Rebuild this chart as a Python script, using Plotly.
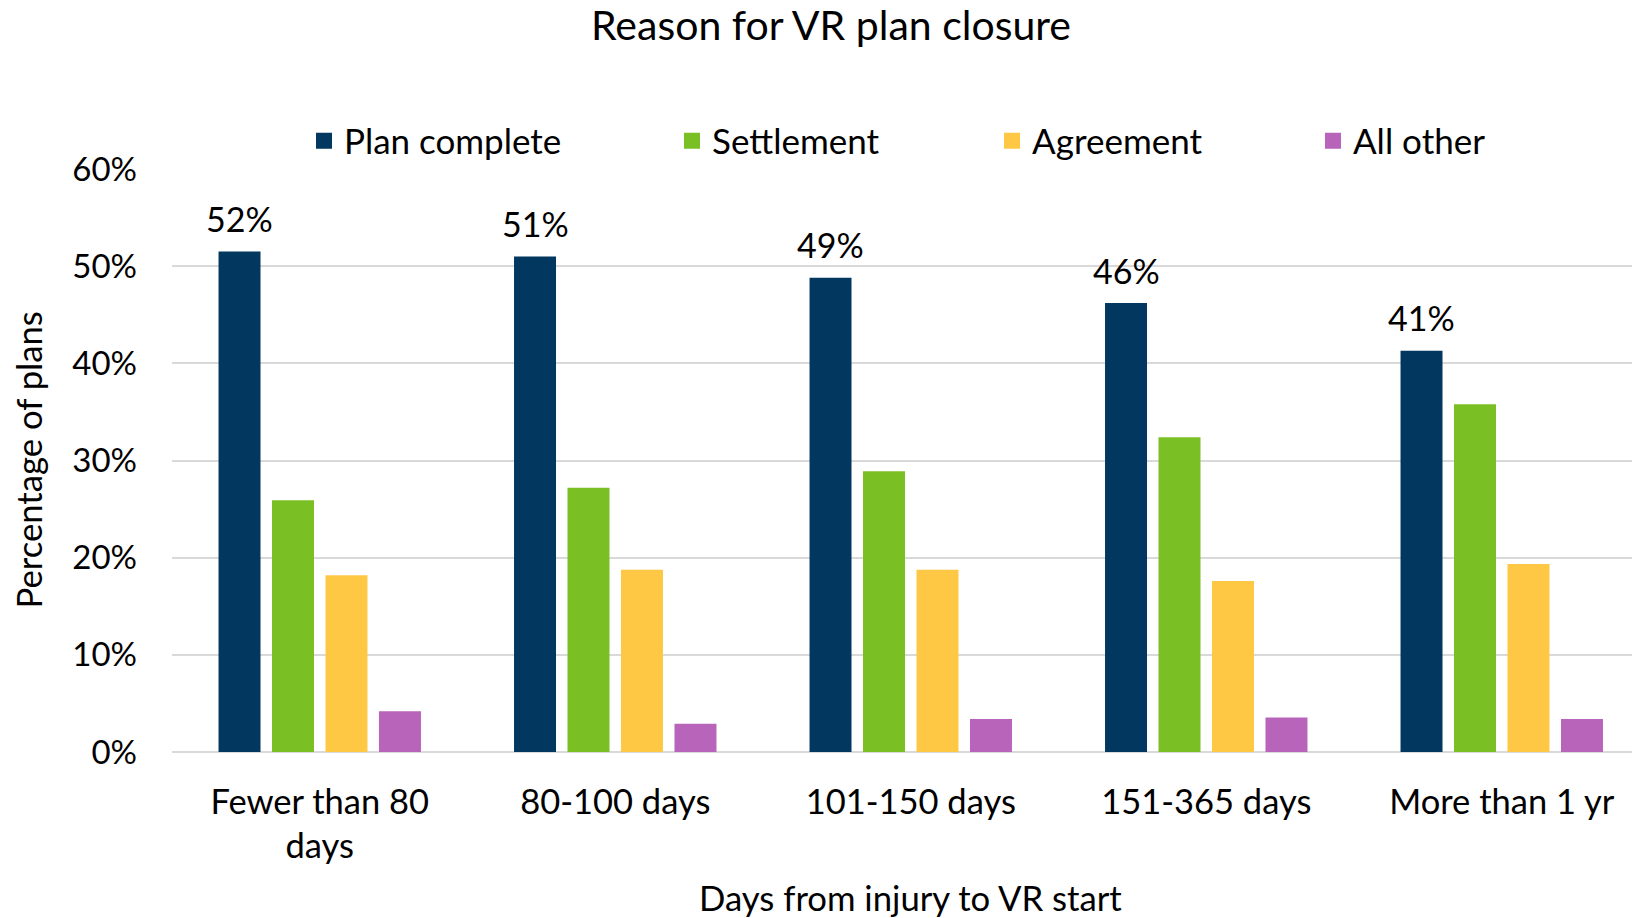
import plotly.graph_objects as go

categories = ["Fewer than 80<br>days", "80-100 days", "101-150 days", "151-365 days", "More than 1 yr"]
plan_complete = [51.5, 51.0, 48.8, 46.2, 41.3]
settlement = [25.9, 27.2, 28.9, 32.4, 35.8]
agreement = [18.2, 18.75, 18.75, 17.6, 19.35]
all_other = [4.2, 2.9, 3.4, 3.55, 3.4]
series_names = ["Plan complete", "Settlement", "Agreement", "All other"]
colors = ["#02375F", "#7ABF23", "#FFC844", "#B764BA"]

FONT = "Lato"
W, H = 1632, 918
L, R, T, B = 172, 0, 169, 166
plot_w = W - L - R
plot_h = H - T - B
BARGAP, BARGROUPGAP = 0.276, 0.215
cat_px = 295.5

fig = go.Figure()
series = [plan_complete, settlement, agreement, all_other]
legend_px = [304, 672, 992, 1313]
for i, (name, vals, col) in enumerate(zip(series_names, series, colors)):
    lg = "legend" if i == 0 else f"legend{i+1}"
    fig.add_trace(go.Bar(
        x=categories, y=vals, name=name,
        marker=dict(color=col, line=dict(width=0)),
        showlegend=False,
    ))
    # legend entry with larger square swatch
    fig.add_trace(go.Scatter(
        x=[None], y=[None], mode="markers", name=name, legend=lg,
        marker=dict(symbol="square", size=19, color=col),
        showlegend=True,
    ))

legend_common = dict(
    orientation="h", yanchor="middle", xanchor="left",
    font=dict(family=FONT, size=35, color="#000000"),
    bgcolor="rgba(0,0,0,0)", itemsizing="trace",
)
for i, px in enumerate(legend_px):
    key = "legend" if i == 0 else f"legend{i+1}"
    fig.update_layout(**{key: dict(legend_common, x=(px - L) / plot_w, y=(H - B - 141) / plot_h)})

# data labels above the "Plan complete" bars
slot_px = cat_px * (1 - BARGAP) / len(series)
first_offset = -1.5 * slot_px
annotations = [
    dict(text=f"{v:.0f}%", x=c, y=v, xref="x", yref="y", showarrow=False,
         xanchor="center", yanchor="middle", xshift=first_offset, yshift=33,
         font=dict(family=FONT, size=34, color="#000000"))
    for c, v in zip(categories, plan_complete)
]
annotations += [
    dict(text="Percentage of plans", textangle=-90, xref="paper", yref="paper",
         x=(28 - L) / plot_w, y=0.5, xanchor="center", yanchor="middle", showarrow=False,
         font=dict(family=FONT, size=34.7, color="#000000")),
    dict(text="Days from injury to VR start", xref="x", yref="paper",
         x=2, y=(H - B - 897) / plot_h, xanchor="center", yanchor="middle", showarrow=False,
         font=dict(family=FONT, size=34.7, color="#000000")),
]

fig.update_layout(
    width=W, height=H,
    margin=dict(l=L, r=R, t=T, b=B),
    paper_bgcolor="white", plot_bgcolor="white",
    barmode="group", bargap=BARGAP, bargroupgap=BARGROUPGAP,
    title=dict(text="Reason for VR plan closure", x=831 / W, xref="container", xanchor="center",
               y=1 - 26 / H, yref="container", yanchor="middle",
               font=dict(family=FONT, size=41, color="#000000")),
    xaxis=dict(range=[-0.5, -0.5 + plot_w / cat_px], showgrid=False, showline=False,
               tickfont=dict(family=FONT, size=34.5, color="#000000"), ticks="",
               ticklabelstandoff=26),
    yaxis=dict(range=[0, 60], dtick=10, ticksuffix="%", showgrid=True, gridcolor="#D9D9D9",
               gridwidth=1.5, zeroline=True, zerolinecolor="#D9D9D9", zerolinewidth=1.5,
               showline=False, ticks="", ticklabelstandoff=34,
               tickfont=dict(family=FONT, size=33, color="#000000")),
    showlegend=True,
    annotations=annotations,
)

fig.write_html("out.html", config={"displayModeBar": False},
               post_script="document.body.style.margin='0';document.body.style.overflow='hidden';")
